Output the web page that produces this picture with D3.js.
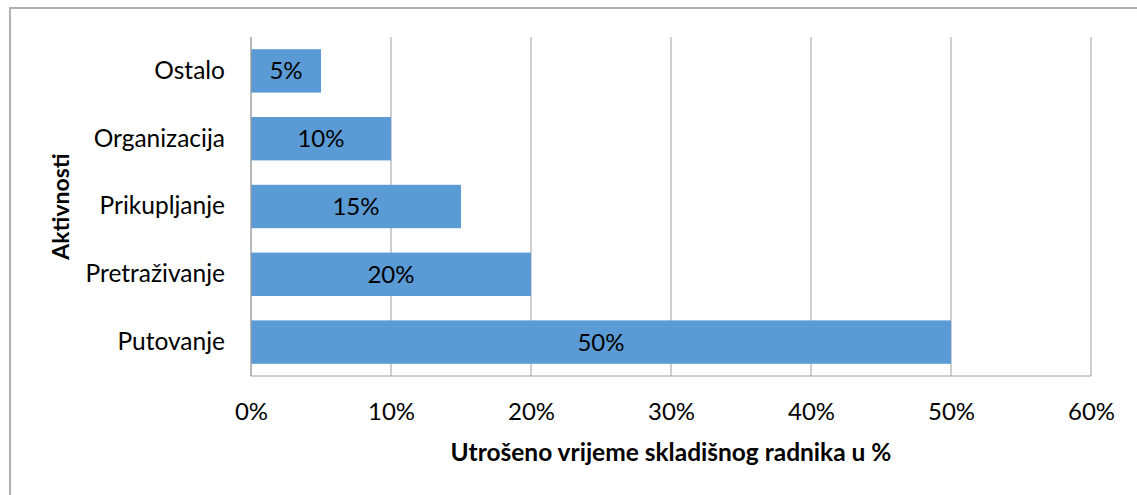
<!DOCTYPE html>
<html>
<head>
<meta charset="utf-8">
<script src="https://cdn.jsdelivr.net/npm/d3@7"></script>
<style>
  body { margin: 0; background: #fff; }
  svg text { font-family: Lato, "Open Sans", sans-serif; fill: #000; }
</style>
</head>
<body>
<div id="chart"></div>
<script>
const categories = ['Putovanje', 'Pretraživanje', 'Prikupljanje', 'Organizacija', 'Ostalo'];
const values = [50, 20, 15, 10, 5];
const xTicks = [0, 10, 20, 30, 40, 50, 60];
const xTitle = 'Utrošeno vrijeme skladišnog radnika u %';
const yTitle = 'Aktivnosti';

const w = 1137;
const h = 495;
const plotLeft = 251, plotRight = 1091, plotTop = 37, plotBottom = 376;

const svg = d3.select('#chart')
              .append('svg')
              .attr('width', w)
              .attr('height', h);

// outer chart frame (only top and left edges fall inside the picture)
svg.append('path')
   .attr('d', `M10,${h + 5} V8 H${w + 5}`)
   .attr('fill', 'none')
   .attr('stroke', '#b0b0b0')
   .attr('stroke-width', 2);

const xScale = d3.scaleLinear().domain([0, 60]).range([plotLeft, plotRight]);
const yScale = d3.scaleBand()
                 .domain(categories)
                 .range([plotBottom, plotTop])
                 .paddingInner(0.36)
                 .paddingOuter(0.18);

// vertical gridlines
svg.append('g')
   .selectAll('line')
   .data(xTicks)
   .enter()
   .append('line')
   .attr('x1', d => xScale(d))
   .attr('x2', d => xScale(d))
   .attr('y1', plotTop)
   .attr('y2', plotBottom)
   .attr('stroke', '#a0a0a0')
   .attr('stroke-width', 1);

svg.selectAll('rect.bar')
   .data(values)
   .enter()
   .append('rect')
   .attr('class', 'bar')
   .attr('x', xScale(0))
   .attr('y', (d, i) => yScale(categories[i]))
   .attr('width', d => xScale(d) - xScale(0))
   .attr('height', yScale.bandwidth())
   .attr('fill', '#5b9bd5');

// axis baseline
svg.append('line')
   .attr('x1', xScale(0)).attr('x2', xScale(60))
   .attr('y1', plotBottom).attr('y2', plotBottom)
   .attr('stroke', '#a0a0a0')
   .attr('stroke-width', 1);

svg.selectAll('text.val')
   .data(values)
   .enter()
   .append('text')
   .attr('class', 'val')
   .attr('x', d => (xScale(0) + xScale(d)) / 2)
   .attr('y', (d, i) => yScale(categories[i]) + yScale.bandwidth() / 2)
   .attr('dy', '0.35em')
   .attr('text-anchor', 'middle')
   .style('font-size', '24px')
   .text(d => d + '%');

const xAxis = d3.axisBottom(xScale)
                .tickValues(xTicks)
                .tickSize(0)
                .tickPadding(27)
                .tickFormat(d => d + '%');
const gx = svg.append('g')
   .attr('transform', `translate(0, ${plotBottom})`)
   .call(xAxis);
gx.select('.domain').remove();
gx.selectAll('text').style('font-size', '24px').attr('fill', '#000');

const yAxis = d3.axisLeft(yScale).tickSize(0).tickPadding(26);
const gy = svg.append('g')
   .attr('transform', `translate(${plotLeft}, 0)`)
   .call(yAxis);
gy.select('.domain')
  .attr('stroke', '#a0a0a0')
  .attr('d', `M0,${plotTop}V${plotBottom}`);
gy.selectAll('text').style('font-size', '24.5px').attr('fill', '#000');

svg.append('text')
   .attr('x', (plotLeft + plotRight) / 2)
   .attr('y', 452)
   .attr('dy', '0.35em')
   .attr('text-anchor', 'middle')
   .style('font-size', '24.5px')
   .style('font-weight', 'bold')
   .text(xTitle);

svg.append('text')
   .attr('transform', `translate(61, ${(plotTop + plotBottom) / 2}) rotate(-90)`)
   .attr('dy', '0.35em')
   .attr('text-anchor', 'middle')
   .style('font-size', '23px')
   .style('font-weight', 'bold')
   .text(yTitle);
</script>
</body>
</html>
